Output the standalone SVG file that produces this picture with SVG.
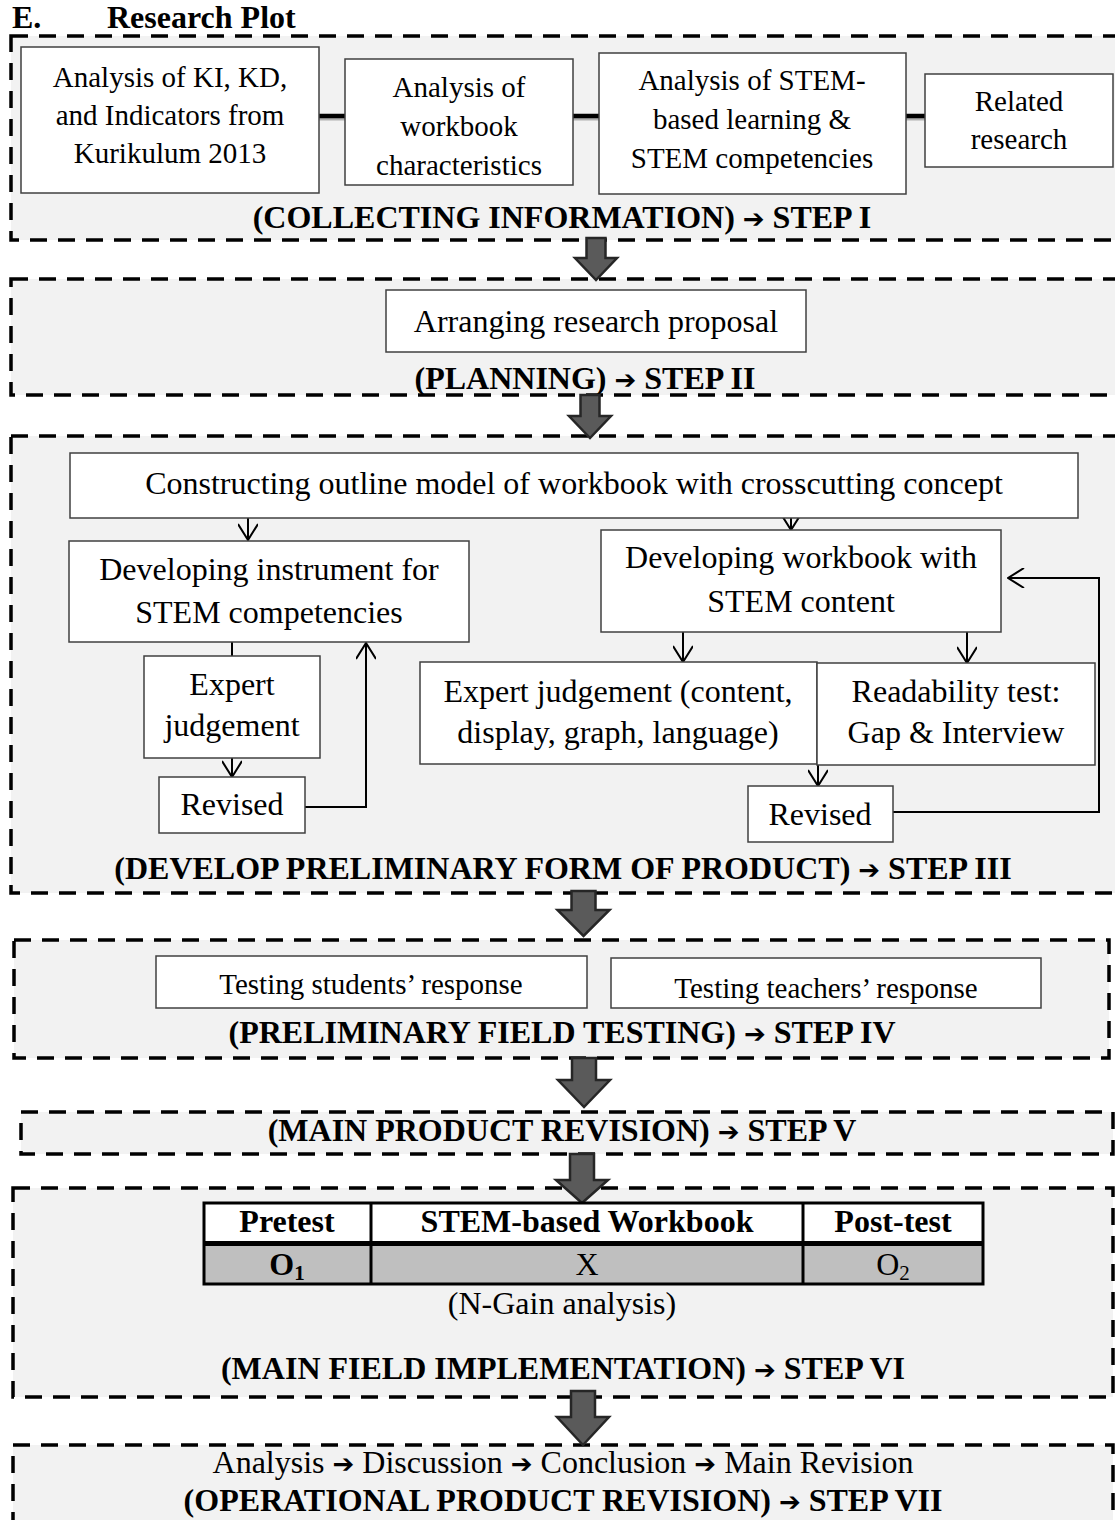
<svg xmlns="http://www.w3.org/2000/svg" width="1115" height="1520" viewBox="0 0 1115 1520">
<defs>
<style>
.panel{fill:#f2f2f2;stroke:#000;stroke-width:3.5;stroke-dasharray:17 11}
.box{fill:#fff;stroke:#404040;stroke-width:1.5}
.t{font-family:"Liberation Serif","Times New Roman",serif;fill:#000;text-anchor:middle}
.s29{font-size:29px}
.s32{font-size:32px}
.b{font-weight:bold}
.ar{font-family:"DejaVu Sans",sans-serif;font-size:26px}
.big{fill:#5a5a5a;stroke:#262626;stroke-width:2.5;stroke-linejoin:miter}
.link{stroke:#000;stroke-width:2;fill:none}
.thick{stroke:#000;stroke-width:4.5}
.shadow{stroke:#b0b0b0;stroke-width:3}
</style>
<marker id="v" viewBox="0 0 20 20" refX="19" refY="10" markerWidth="20" markerHeight="20" markerUnits="userSpaceOnUse" orient="auto">
<path d="M3,0 L19,10 L3,20" fill="none" stroke="#000" stroke-width="2"/>
</marker>
</defs>
<rect x="0" y="0" width="1115" height="1520" fill="#fff"/>

<g id="title">
<text class="t s32 b" x="12" y="28" style="text-anchor:start">E.</text>
<text class="t s32 b" x="107" y="28" style="text-anchor:start">Research Plot</text>
</g>

<!-- Panels -->
<g id="panel1"><rect class="panel" x="11" y="36" width="1120" height="204"/>
<text class="t s32 b" x="562" y="228">(COLLECTING INFORMATION) <tspan class="ar">➔</tspan> STEP I</text></g>
<g id="panel2"><rect class="panel" x="11" y="279" width="1120" height="116"/>
<text class="t s32 b" x="585" y="389">(PLANNING) <tspan class="ar">➔</tspan> STEP II</text></g>
<g id="panel3"><rect class="panel" x="11" y="436" width="1120" height="457"/>
<text class="t s32 b" x="563" y="879">(DEVELOP PRELIMINARY FORM OF PRODUCT) <tspan class="ar">➔</tspan> STEP III</text></g>
<g id="panel4"><rect class="panel" x="14" y="940" width="1095" height="118"/>
<text class="t s32 b" x="562" y="1043">(PRELIMINARY FIELD TESTING) <tspan class="ar">➔</tspan> STEP IV</text></g>
<g id="panel5"><rect class="panel" x="21" y="1112" width="1092" height="42"/>
<text class="t s32 b" x="562" y="1141">(MAIN PRODUCT REVISION) <tspan class="ar">➔</tspan> STEP V</text></g>
<g id="panel6"><rect class="panel" x="13" y="1188" width="1100" height="209"/>
<text class="t s32" x="562" y="1314">(N-Gain analysis)</text>
<text class="t s32 b" x="563" y="1379">(MAIN FIELD IMPLEMENTATION) <tspan class="ar">➔</tspan> STEP VI</text></g>
<g id="panel7"><rect class="panel" x="13" y="1445" width="1100" height="90"/>
<text class="t s32" x="563" y="1473">Analysis <tspan class="ar">➔</tspan> Discussion <tspan class="ar">➔</tspan> Conclusion <tspan class="ar">➔</tspan> Main Revision</text>
<text class="t s32 b" x="563" y="1511">(OPERATIONAL PRODUCT REVISION)  <tspan class="ar">➔</tspan> STEP VII</text></g>

<!-- Connectors -->
<g id="connectors">
<line class="shadow" x1="319" y1="119" x2="345" y2="119"/>
<line class="shadow" x1="573" y1="119" x2="599" y2="119"/>
<line class="shadow" x1="906" y1="119" x2="925" y2="119"/>
<line class="thick" x1="319" y1="116" x2="345" y2="116"/>
<line class="thick" x1="573" y1="116" x2="599" y2="116"/>
<line class="thick" x1="906" y1="116" x2="925" y2="116"/>

<line class="link" x1="248" y1="518" x2="248" y2="540" marker-end="url(#v)"/>
<line class="link" x1="791" y1="518" x2="791" y2="530" marker-end="url(#v)"/>
<line class="link" x1="232" y1="642" x2="232" y2="656"/>
<line class="link" x1="232" y1="758" x2="232" y2="777" marker-end="url(#v)"/>
<polyline class="link" points="305,807 366,807 366,643" marker-end="url(#v)"/>
<line class="link" x1="683" y1="617" x2="683" y2="662" marker-end="url(#v)"/>
<line class="link" x1="967" y1="623" x2="967" y2="663" marker-end="url(#v)"/>
<line class="link" x1="818" y1="738" x2="818" y2="786" marker-end="url(#v)"/>
<polyline class="link" points="893,812 1099,812 1099,578 1008,578" marker-end="url(#v)"/>

<path class="big" d="M586.5,238 H605.5 V258 H617 L596,280 L575,258 H586.5 Z"/>
<path class="big" d="M580.5,395 H599.5 V416 H611 L590,438 L569,416 H580.5 Z"/>
<path class="big" d="M571.5,891 H595.5 V910 H609.5 L583.5,936 L557.5,910 H571.5 Z"/>
<path class="big" d="M572,1058 H596 V1080 H610 L584,1107 L558,1080 H572 Z"/>
<path class="big" d="M570,1154 H594 V1180 H608 L582,1203 L556,1180 H570 Z"/>
<path class="big" d="M571,1391 H595 V1417 H609 L583,1445 L557,1417 H571 Z"/>
</g>

<!-- Step I nodes -->
<g id="n-ki"><rect class="box" x="21" y="47" width="298" height="146"/>
<text class="t s29" x="170" y="87">Analysis of KI, KD,</text>
<text class="t s29" x="170" y="125">and Indicators from</text>
<text class="t s29" x="170" y="163">Kurikulum 2013</text></g>
<g id="n-workbook"><rect class="box" x="345" y="59" width="228" height="126"/>
<text class="t s29" x="459" y="97">Analysis of</text>
<text class="t s29" x="459" y="136">workbook</text>
<text class="t s29" x="459" y="175">characteristics</text></g>
<g id="n-stem"><rect class="box" x="599" y="53" width="307" height="141"/>
<text class="t s29" x="752" y="90">Analysis of STEM-</text>
<text class="t s29" x="752" y="129">based learning &amp;</text>
<text class="t s29" x="752" y="168">STEM competencies</text></g>
<g id="n-related"><rect class="box" x="925" y="74" width="188" height="93"/>
<text class="t s29" x="1019" y="111">Related</text>
<text class="t s29" x="1019" y="149">research</text></g>

<!-- Step II -->
<g id="n-proposal"><rect class="box" x="386" y="290" width="420" height="62"/>
<text class="t s32" x="596" y="332">Arranging research proposal</text></g>

<!-- Step III -->
<g id="n-outline"><rect class="box" x="70" y="453" width="1008" height="65"/>
<text class="t s32" x="574" y="494">Constructing outline model of workbook with crosscutting concept</text></g>
<g id="n-instrument"><rect class="box" x="69" y="541" width="400" height="101"/>
<text class="t s32" x="269" y="580">Developing instrument for</text>
<text class="t s32" x="269" y="623">STEM competencies</text></g>
<g id="n-expert1"><rect class="box" x="144" y="656" width="176" height="102"/>
<text class="t s32" x="232" y="695">Expert</text>
<text class="t s32" x="232" y="736">judgement</text></g>
<g id="n-revised1"><rect class="box" x="159" y="777" width="146" height="56"/>
<text class="t s32" x="232" y="815">Revised</text></g>
<g id="n-devworkbook"><rect class="box" x="601" y="530" width="400" height="102"/>
<text class="t s32" x="801" y="568">Developing workbook with</text>
<text class="t s32" x="801" y="612">STEM content</text></g>
<g id="n-expert2"><rect class="box" x="420" y="662" width="397" height="102"/>
<text class="t s32" x="618" y="702">Expert judgement (content,</text>
<text class="t s32" x="618" y="743">display, graph, language)</text></g>
<g id="n-readability"><rect class="box" x="817" y="663" width="278" height="102"/>
<text class="t s32" x="956" y="702">Readability test:</text>
<text class="t s32" x="956" y="743">Gap &amp; Interview</text></g>
<g id="n-revised2"><rect class="box" x="748" y="786" width="145" height="56"/>
<text class="t s32" x="820" y="825">Revised</text></g>

<!-- Step IV -->
<g id="n-students"><rect class="box" x="156" y="956" width="431" height="52"/>
<text class="t s29" x="371" y="994">Testing students’ response</text></g>
<g id="n-teachers"><rect class="box" x="611" y="958" width="430" height="50"/>
<text class="t s29" x="826" y="998">Testing teachers’ response</text></g>

<!-- Step VI table -->
<g id="n-table">
<rect x="204" y="1203" width="779" height="38" fill="#fff"/>
<rect x="204" y="1246" width="779" height="38" fill="#bfbfbf"/>
<rect x="204" y="1241" width="779" height="5" fill="#000"/>
<rect x="204" y="1203" width="779" height="81" fill="none" stroke="#000" stroke-width="3"/>
<line x1="371" y1="1203" x2="371" y2="1284" stroke="#000" stroke-width="3"/>
<line x1="803" y1="1203" x2="803" y2="1284" stroke="#000" stroke-width="3"/>
<text class="t s32 b" x="287" y="1232">Pretest</text>
<text class="t s32 b" x="587" y="1232">STEM-based Workbook</text>
<text class="t s32 b" x="893" y="1232">Post-test</text>
<text class="t s32 b" x="287" y="1275">O<tspan font-size="21" dy="5">1</tspan></text>
<text class="t s32" x="587" y="1275">X</text>
<text class="t s32" x="893" y="1275">O<tspan font-size="21" dy="5">2</tspan></text>
</g>
</svg>
